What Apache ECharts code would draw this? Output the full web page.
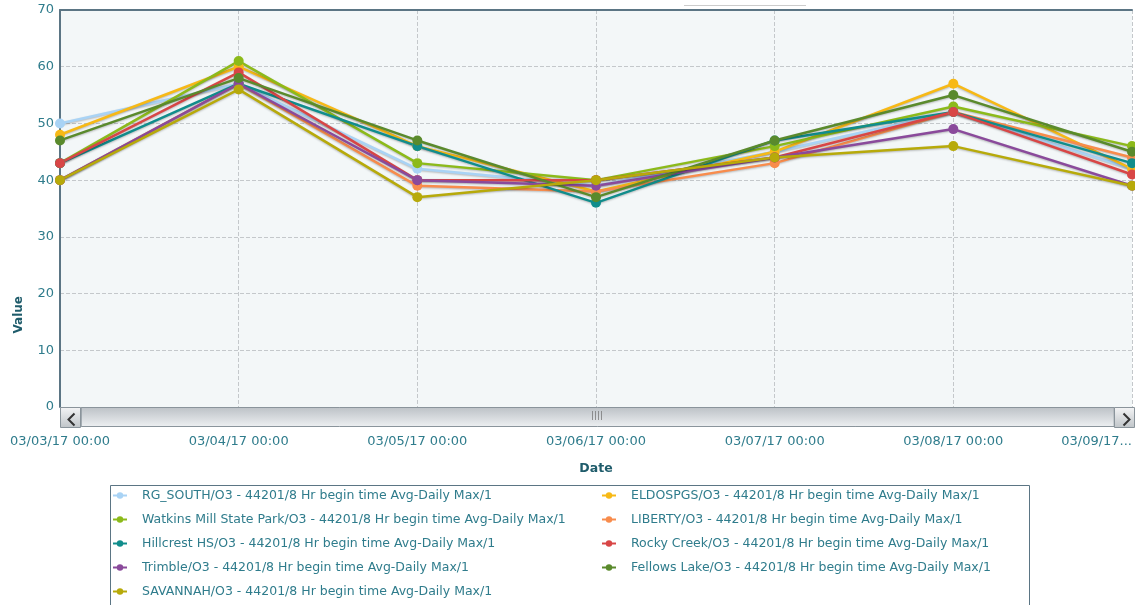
<!DOCTYPE html>
<html>
<head>
<meta charset="utf-8">
<script src="https://cdn.jsdelivr.net/npm/echarts@6/dist/echarts.min.js"></script>
<style>
  html, body { margin: 0; padding: 0; background: #fff; }
  #chart { width: 1135px; height: 605px; }
</style>
</head>
<body>
<div id="chart"></div>
<script>
const dates = [
  '03/03/17 00:00', '03/04/17 00:00', '03/05/17 00:00', '03/06/17 00:00',
  '03/07/17 00:00', '03/08/17 00:00', '03/09/17 00:00'
];

const SUFFIX = '/O3 - 44201/8 Hr begin time Avg-Daily Max/1';

// values, one array per site
const rgSouth   = [50, 57, 42, 39, 45, 52, 42];
const eldospgs  = [48, 60, 46, 38, 45, 57, 42];
const watkins   = [43, 61, 43, 40, 46, 53, 46];
const liberty   = [40, 57, 39, 38, 43, 52, 44];
const hillcrest = [43, 57, 46, 36, 47, 52, 43];
const rocky     = [43, 59, 40, 40, 44, 52, 41];
const trimble   = [40, 57, 40, 39, 44, 49, 39];
const fellows   = [47, 58, 47, 37, 47, 55, 45];
const savannah  = [40, 56, 37, 40, 44, 46, 39];

const sites = [
  { name: 'RG_SOUTH' + SUFFIX, data: rgSouth, color: '#a9d3f5' },
  { name: 'ELDOSPGS' + SUFFIX, data: eldospgs, color: '#f7b916' },
  { name: 'Watkins Mill State Park' + SUFFIX, data: watkins, color: '#8cba1a' },
  { name: 'LIBERTY' + SUFFIX, data: liberty, color: '#f88c4c' },
  { name: 'Hillcrest HS' + SUFFIX, data: hillcrest, color: '#108d8c' },
  { name: 'Rocky Creek' + SUFFIX, data: rocky, color: '#d84646' },
  { name: 'Trimble' + SUFFIX, data: trimble, color: '#8a4a9b' },
  { name: 'Fellows Lake' + SUFFIX, data: fellows, color: '#5a8a2c' },
  { name: 'SAVANNAH' + SUFFIX, data: savannah, color: '#b7aa0a' },
];

const TEXT = '#2f7c8c';
const DARK = '#1f5c6b';
const AXIS = '#5b7584';
const FONT = '"DejaVu Sans", Verdana, sans-serif';

const chart = echarts.init(document.getElementById('chart'), null, { renderer: 'canvas' });

const btnFill = new echarts.graphic.LinearGradient(0, 0, 0, 1, [
  { offset: 0, color: '#f4f5f6' }, { offset: 1, color: '#bfc4c8' }
]);

const legendBase = {
  orient: 'vertical', top: 485, padding: [4, 0, 0, 2],
  itemWidth: 14, itemHeight: 8, itemGap: 11,
  textStyle: { color: TEXT, fontSize: 12.5, padding: [0, 0, 0, 10] },
};

chart.setOption({
  animation: false,
  textStyle: { fontFamily: FONT },
  grid: {
    left: 60, right: 1, top: 10, bottom: 198,
    show: true, backgroundColor: '#f3f7f8', borderWidth: 0,
  },
  legend: [
    Object.assign({}, legendBase, {
      data: [sites[0].name, sites[2].name, sites[4].name, sites[6].name, sites[8].name],
      left: 110,
    }),
    Object.assign({}, legendBase, {
      data: [sites[1].name, sites[3].name, sites[5].name, sites[7].name],
      left: 599,
    }),
  ],
  xAxis: [
    {
      type: 'category',
      data: dates,
      boundaryGap: false,
      axisLine: { show: false },
      axisTick: { show: false },
      axisLabel: {
        color: TEXT, fontSize: 13, margin: 28,
        alignMaxLabel: 'right',
        formatter: (v, i) => (i === dates.length - 1 ? v.slice(0, 8) + '...' : v),
      },
      splitLine: { show: true, lineStyle: { type: 'dashed', color: '#c4c8cb' } },
      name: 'Date', nameLocation: 'middle', nameGap: 55,
      nameTextStyle: { color: DARK, fontWeight: 'bold', fontSize: 12.5 },
    },
    {
      type: 'category',
      data: dates,
      position: 'top',
      boundaryGap: false,
      axisLine: { show: true, lineStyle: { color: AXIS, width: 2 } },
      axisTick: { show: false },
      axisLabel: { show: false },
      splitLine: { show: false },
    },
  ],
  yAxis: {
    type: 'value', min: 0, max: 70, interval: 10,
    axisLine: { show: true, lineStyle: { color: AXIS, width: 2 } },
    axisTick: { show: false },
    axisLabel: { color: TEXT, fontSize: 13, margin: 6 },
    splitLine: { lineStyle: { type: 'dashed', color: '#c4c8cb' } },
  },
  dataZoom: [
    {
      type: 'slider', xAxisIndex: 0, start: 0, end: 100,
      left: 80, right: 21, top: 407, height: 20,
      showDetail: false, showDataShadow: false, brushSelect: false,
      borderColor: '#8a949b', borderRadius: 0,
      backgroundColor: btnFill,
      fillerColor: new echarts.graphic.LinearGradient(0, 0, 0, 1, [
        { offset: 0, color: '#eef0f2' }, { offset: 1, color: '#bcc1c6' }
      ]),
      handleSize: 0, handleStyle: { opacity: 0 },
      moveHandleSize: 0,
      dataBackground: { lineStyle: { opacity: 0 }, areaStyle: { opacity: 0 } },
    },
  ],
  graphic: [
    // scroll buttons and grip
    { type: 'rect', left: 60, top: 407, z: 100, shape: { width: 20, height: 20 },
      style: { fill: btnFill, stroke: '#8a949b', lineWidth: 1 } },
    { type: 'polyline', left: 66, top: 411, z: 101, shape: { points: [[6, 0], [0, 6], [6, 12]] },
      style: { stroke: '#333', lineWidth: 2, fill: null } },
    { type: 'rect', left: 1114, top: 407, z: 100, shape: { width: 20, height: 20 },
      style: { fill: btnFill, stroke: '#8a949b', lineWidth: 1 } },
    { type: 'polyline', left: 1121, top: 411, z: 101, shape: { points: [[0, 0], [6, 6], [0, 12]] },
      style: { stroke: '#333', lineWidth: 2, fill: null } },
    { type: 'text', left: 591, top: 411, z: 101,
      style: { text: '||||', fill: '#777', font: '9px "DejaVu Sans"' } },
    // y axis title
    { type: 'text', left: 13, top: 296, rotation: Math.PI / 2,
      style: { text: 'Value', fill: DARK, font: 'bold 12px "DejaVu Sans"' } },
    // legend frame
    { type: 'rect', left: 110, top: 485, z: -1, shape: { width: 919, height: 130 },
      style: { fill: '#fff', stroke: AXIS, lineWidth: 1 } },
    // dotted remnant above the plot
    { type: 'line', left: 682, top: 3, shape: { x1: 0, y1: 0, x2: 121, y2: 0 },
      style: { stroke: '#999', lineWidth: 1, lineDash: [1, 1] } },
  ],
  series: sites.map((s) => ({
    name: s.name,
    type: 'line',
    data: s.data,
    symbol: 'circle',
    symbolSize: 10,
    color: s.color,
    lineStyle: { width: 2.5, color: s.color, shadowColor: 'rgba(0,0,0,0.25)', shadowBlur: 2, shadowOffsetY: 1 },
    itemStyle: { color: s.color },
    emphasis: { disabled: true },
  })),
});
</script>
</body>
</html>
